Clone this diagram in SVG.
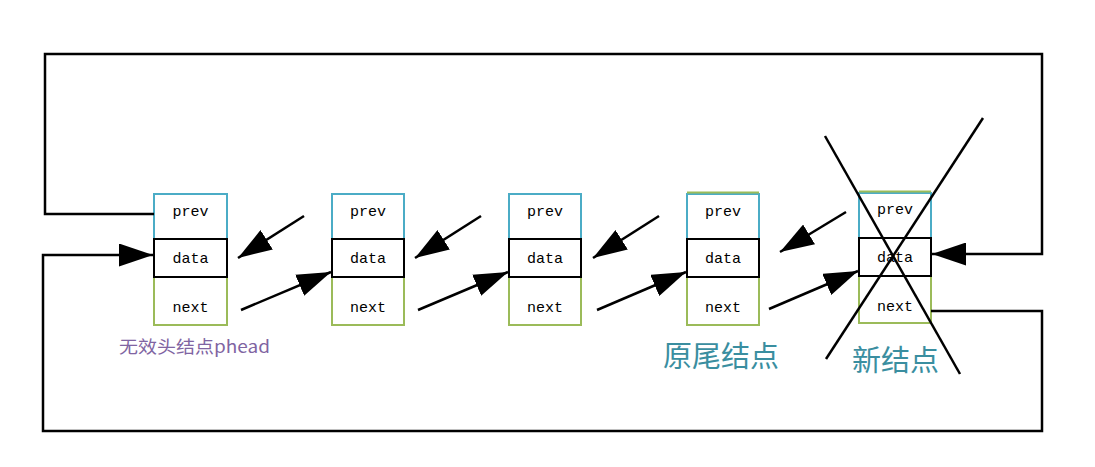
<svg xmlns="http://www.w3.org/2000/svg" width="1095" height="467" viewBox="0 0 1095 467">
<style>
.prev{fill:#fff;stroke:#4bacc6;stroke-width:2}
.next{fill:#fff;stroke:#9bbb59;stroke-width:2}
.data{fill:#fff;stroke:#000;stroke-width:2}
.t{font-family:"Liberation Mono",monospace;font-size:15px;fill:#000;text-anchor:middle}
.ln{fill:none;stroke:#000;stroke-width:2.5}
.cn{font-family:"Noto Sans CJK SC",sans-serif;fill:#3a8ea0}
</style>
<defs>
<marker id="ah" viewBox="0 0 34 23" refX="34" refY="11.5" markerWidth="34" markerHeight="23" markerUnits="userSpaceOnUse" orient="auto">
<path d="M0,0 L34,11.5 L0,23 Z" fill="#000"/>
</marker>
</defs>
<rect width="1095" height="467" fill="#fff"/>
<g id="node1">
<rect class="prev" x="154" y="194" width="73" height="45"/>
<rect class="next" x="154" y="277" width="73" height="48"/>
<rect class="data" x="154" y="239" width="73" height="38"/>
<text class="t" x="190.5" y="216">prev</text>
<text class="t" x="190.5" y="263">data</text>
<text class="t" x="190.5" y="312">next</text>
</g>
<g id="node2">
<rect class="prev" x="332" y="194" width="72" height="45"/>
<rect class="next" x="332" y="277" width="72" height="48"/>
<rect class="data" x="332" y="239" width="72" height="38"/>
<text class="t" x="368" y="216">prev</text>
<text class="t" x="368" y="263">data</text>
<text class="t" x="368" y="312">next</text>
</g>
<g id="node3">
<rect class="prev" x="509" y="194" width="72" height="45"/>
<rect class="next" x="509" y="277" width="72" height="48"/>
<rect class="data" x="509" y="239" width="72" height="38"/>
<text class="t" x="545" y="216">prev</text>
<text class="t" x="545" y="263">data</text>
<text class="t" x="545" y="312">next</text>
</g>
<g id="node4">
<rect class="prev" x="687" y="194" width="72" height="45"/>
<line x1="687" y1="192.5" x2="759" y2="192.5" stroke="#9bbb59" stroke-width="2"/>
<rect class="next" x="687" y="277" width="72" height="48"/>
<rect class="data" x="687" y="239" width="72" height="38"/>
<text class="t" x="723" y="216">prev</text>
<text class="t" x="723" y="263">data</text>
<text class="t" x="723" y="312">next</text>
</g>
<g id="node5">
<rect class="prev" x="859" y="193" width="72" height="45"/>
<line x1="859" y1="191.5" x2="931" y2="191.5" stroke="#9bbb59" stroke-width="2"/>
<rect class="next" x="859" y="276" width="72" height="47"/>
<rect class="data" x="859" y="238" width="72" height="38"/>
<text class="t" x="895" y="214">prev</text>
<text class="t" x="895" y="262">data</text>
<text class="t" x="895" y="311">next</text>
</g>
<g id="labels">
<text x="119" y="353" textLength="151" lengthAdjust="spacingAndGlyphs" style="font-family:'Noto Sans CJK SC',sans-serif;font-size:17px;fill:#8064a2">无效头结点phead</text>
<text class="cn" x="663" y="367" style="font-size:29px">原尾结点</text>
<text class="cn" x="852" y="371" style="font-size:29px">新结点</text>
</g>
<g id="connectors">
<polyline class="ln" points="154,214 45,214 45,54 1042,54 1042,254 932,254" marker-end="url(#ah)"/>
<polyline class="ln" points="931,311 1042,311 1042,431 43,431 43,255 153,255" marker-end="url(#ah)"/>
<line class="ln" x1="304" y1="216" x2="238" y2="258" marker-end="url(#ah)"/>
<line class="ln" x1="481" y1="216" x2="415" y2="258" marker-end="url(#ah)"/>
<line class="ln" x1="659" y1="216" x2="593" y2="258" marker-end="url(#ah)"/>
<line class="ln" x1="846" y1="212" x2="780" y2="252" marker-end="url(#ah)"/>
<line class="ln" x1="241" y1="310" x2="331" y2="272" marker-end="url(#ah)"/>
<line class="ln" x1="418" y1="310" x2="508" y2="272" marker-end="url(#ah)"/>
<line class="ln" x1="597" y1="310" x2="686" y2="272" marker-end="url(#ah)"/>
<line class="ln" x1="769" y1="309" x2="858" y2="271" marker-end="url(#ah)"/>
<line class="ln" x1="825" y1="136" x2="960" y2="374"/>
<line class="ln" x1="983" y1="118" x2="826" y2="359"/>
</g>
</svg>
